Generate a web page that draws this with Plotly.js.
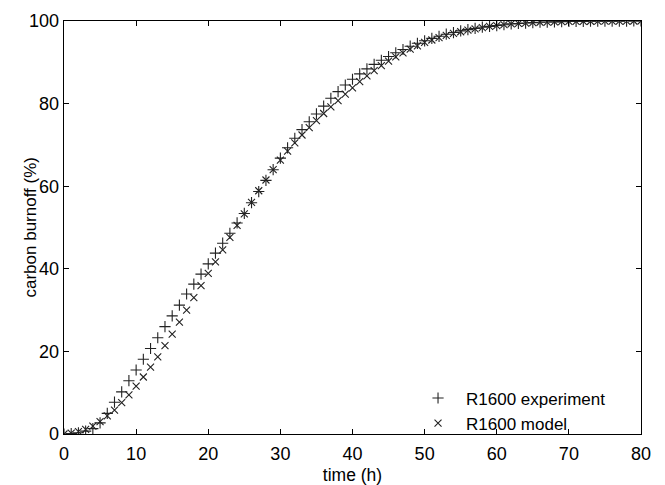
<!DOCTYPE html>
<html>
<head>
<meta charset="utf-8">
<script src="https://cdn.plot.ly/plotly-3.0.1.min.js"></script>
<style>html,body{margin:0;padding:0;background:#fff;}#chart{width:665px;height:485px;}</style>
</head>
<body>
<div id="chart"></div>
<script>
const timeH = [0,1,2,3,4,5,6,7,8,9,10,11,12,13,14,15,16,17,18,19,20,21,22,23,24,25,26,27,28,29,30,31,32,33,34,35,36,37,38,39,40,41,42,43,44,45,46,47,48,49,50,51,52,53,54,55,56,57,58,59,60,61,62,63,64,65,66,67,68,69,70,71,72,73,74,75,76,77,78,79,80];
const experiment = [0,0.1,0.3,0.7,1.3,2.7,5.0,7.7,10.2,12.9,15.5,18.1,20.7,23.3,26.0,28.6,31.2,33.9,36.3,38.7,41.2,43.8,46.2,48.6,51.1,53.4,56.0,58.7,61.4,64.0,66.8,69.3,71.6,73.7,75.6,77.5,79.4,81.3,82.9,84.5,85.9,87.2,88.4,89.5,90.5,91.4,92.3,93.1,93.9,94.6,95.2,95.8,96.3,96.8,97.2,97.6,97.9,98.2,98.5,98.7,98.9,99.1,99.3,99.4,99.5,99.6,99.7,99.75,99.8,99.85,99.9,99.9,99.92,99.94,99.95,99.96,99.97,99.98,99.99,100,100];
const model = [0,0.2,0.6,1.1,1.9,3.0,4.4,5.8,7.6,9.5,11.6,13.8,16.2,18.7,21.4,24.2,27.1,30.0,33.0,35.9,38.9,41.7,44.6,47.6,50.5,53.3,56.1,58.9,61.5,64.0,66.3,68.5,70.5,72.4,74.2,75.9,77.6,79.2,80.7,82.3,83.8,85.3,86.7,88.0,89.2,90.3,91.3,92.3,93.2,94.0,94.8,95.4,96.0,96.5,97.0,97.4,97.8,98.1,98.4,98.7,98.9,99.1,99.3,99.4,99.5,99.6,99.7,99.75,99.8,99.85,99.9,99.9,99.92,99.94,99.95,99.96,99.97,99.98,99.99,100,100];
const seriesNames = ['R1600 experiment', 'R1600 model'];
const xTicks = [0,10,20,30,40,50,60,70,80];
const yTicks = [0,20,40,60,80,100];
const xTitle = 'time (h)';
const yTitle = 'carbon burnoff (%)';

const fontFam = '"Liberation Sans", Arial, Helvetica, sans-serif';
const traces = [
  {x: timeH, y: experiment, name: seriesNames[0], mode: 'markers', type: 'scatter',
   marker: {symbol: 'cross-thin-open', size: 8, color: '#222', line: {color: '#222', width: 1.1}}},
  {x: timeH, y: model, name: seriesNames[1], mode: 'markers', type: 'scatter',
   marker: {symbol: 'x-thin-open', size: 7, color: '#222', line: {color: '#222', width: 1.1}}}
];
const axisCommon = {
  showgrid: false, zeroline: false, showline: true, linecolor: '#000', linewidth: 1.3,
  mirror: 'ticks', ticks: 'inside', ticklen: 5, tickwidth: 1.2, tickcolor: '#000',
  tickfont: {family: fontFam, size: 18, color: '#000'}
};
const layout = {
  width: 665, height: 485,
  margin: {l: 64, r: 24, t: 21, b: 51},
  paper_bgcolor: '#fff', plot_bgcolor: '#fff',
  font: {family: fontFam, color: '#000'},
  showlegend: true,
  legend: {x: 0.5997, y: -0.018, xanchor: 'left', yanchor: 'bottom', bgcolor: 'rgba(0,0,0,0)',
           font: {family: fontFam, size: 17, color: '#000'}, itemwidth: 46, tracegroupgap: 0},
  xaxis: Object.assign({}, axisCommon, {range: [0, 80], tickvals: xTicks, ticktext: xTicks.map(String),
    ticklabelstandoff: 3,
    title: {text: xTitle, font: {family: fontFam, size: 17.5, color: '#000'}, standoff: 8}}),
  yaxis: Object.assign({}, axisCommon, {range: [0, 100], tickvals: yTicks, ticktext: yTicks.map(String)}),
  annotations: [
    {text: yTitle, xref: 'paper', yref: 'paper', x: -0.0572, y: 0.5, xanchor: 'center', yanchor: 'middle',
     textangle: -90, showarrow: false, font: {family: fontFam, size: 17, color: '#000'}}
  ]
};
Plotly.newPlot('chart', traces, layout, {staticPlot: true, displayModeBar: false});
</script>
</body>
</html>
